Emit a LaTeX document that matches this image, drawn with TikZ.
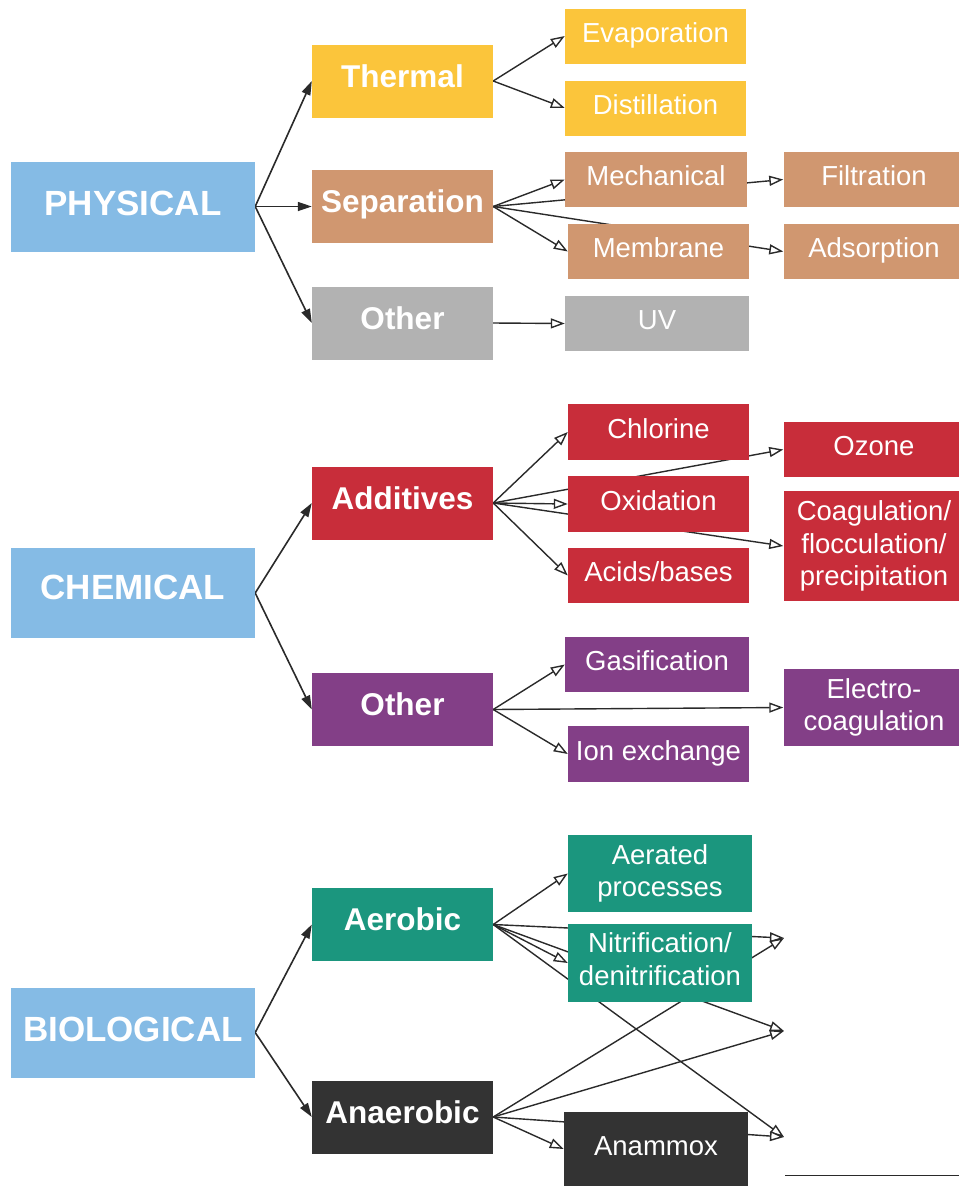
\documentclass[tikz,border=0pt]{standalone}
\usepackage{fontspec}
\setmainfont{Liberation Sans}
\usetikzlibrary{arrows.meta}
\pgfdeclarelayer{bg}
\pgfsetlayers{bg,main}
\definecolor{cblue}{HTML}{85BBE5}
\definecolor{cyellow}{HTML}{FBC53B}
\definecolor{ctan}{HTML}{D09770}
\definecolor{cgray}{HTML}{B2B2B2}
\definecolor{cred}{HTML}{C82D3A}
\definecolor{cpurple}{HTML}{833F87}
\definecolor{cteal}{HTML}{1B967E}
\definecolor{cdark}{HTML}{333333}
\definecolor{cline}{HTML}{2A2A2A}
\newcommand{\lowstrut}[1]{\rule[-#1]{0pt}{#1}}
\tikzset{
  box/.style={rectangle, inner sep=0pt, text=white, align=center},
  lvlzero/.style={box, font=\bfseries\fontsize{35}{40}\selectfont, minimum width=244pt, minimum height=90pt, text height=25pt, text depth=7pt},
  lvlone/.style={box, font=\bfseries\fontsize{31.5}{36}\selectfont, minimum width=181pt, minimum height=73pt, text height=22.5pt, text depth=10pt},
  lvltwo/.style={box, font=\fontsize{27.5}{32.5}\selectfont, text height=19.7pt, text depth=7pt},
  lvlthree/.style={box, font=\fontsize{27.5}{32.5}\selectfont, minimum width=181pt, text height=19.7pt, text depth=8pt},
  multiline/.style={text height=, text depth=},
  filledarrow/.style={draw=cline, line width=1.6pt, -{Triangle[length=14pt,width=9pt]}},
  openarrow/.style={draw=cline, line width=1.4pt, -{Triangle[open,length=14pt,width=10pt,fill=white]}},
  plainline/.style={draw=cline, line width=1pt},
}
\begin{document}
\begin{tikzpicture}[x=1pt,y=-1pt]
\useasboundingbox (0,0) rectangle (959,1187);
% level 0
\node[lvlzero, fill=cblue] (phys) at (133,206.5) {PHYSICAL};
\node[lvlzero, fill=cblue, text depth=13pt] (chem) at (133,593) {CHEMICAL};
\node[lvlzero, fill=cblue] (bio) at (133,1032.5) {BIOLOGICAL};
% level 1
\node[lvlone, fill=cyellow] (thermal) at (402.5,81) {Thermal};
\node[lvlone, fill=ctan] (sep) at (402.5,206.5) {Separation};
\node[lvlone, fill=cgray] (otherp) at (402.5,323) {Other};
\node[lvlone, fill=cred] (addit) at (402.5,503) {Additives};
\node[lvlone, fill=cpurple] (otherc) at (402.5,709.5) {Other};
\node[lvlone, fill=cteal] (aerob) at (402.5,924.5) {Aerobic};
\node[lvlone, fill=cdark] (anaer) at (402.5,1117) {Anaerobic};
% level 2
\node[lvltwo, fill=cyellow, minimum width=181pt, minimum height=55pt] (evap) at (655.5,36) {Evaporation};
\node[lvltwo, fill=cyellow, minimum width=181pt, minimum height=55pt] (dist) at (655.5,108) {Distillation};
\node[lvltwo, fill=ctan, minimum width=182pt, minimum height=55pt] (mech) at (656,179.5) {Mechanical};
\node[lvltwo, fill=ctan, minimum width=181pt, minimum height=55pt] (memb) at (658.5,251.5) {Membrane};
\node[lvltwo, fill=cgray, minimum width=184pt, minimum height=55pt] (uv) at (657,323.5) {UV};
\node[lvltwo, fill=cred, minimum width=181pt, minimum height=56pt] (chlor) at (658.5,432) {Chlorine};
\node[lvltwo, fill=cred, minimum width=181pt, minimum height=56pt] (oxid) at (658.5,504) {Oxidation};
\node[lvltwo, fill=cred, minimum width=181pt, minimum height=55pt] (acids) at (658.5,575.5) {Acids/bases};
\node[lvltwo, fill=cpurple, minimum width=184pt, minimum height=55pt] (gasif) at (657,664.5) {Gasification};
\node[lvltwo, fill=cpurple, minimum width=181pt, minimum height=56pt] (ionex) at (658.5,754) {Ion exchange};
\node[lvltwo, multiline, fill=cteal, minimum width=184pt, minimum height=77pt] (aerat) at (660,873.5) {Aerated\\processes\lowstrut{3pt}};
\node[lvltwo, multiline, fill=cteal, minimum width=184pt, minimum height=78pt] (nitri) at (660,963) {Nitrification/\\denitrification\lowstrut{8pt}};
\node[lvltwo, fill=cdark, minimum width=184pt, minimum height=74pt] (anamm) at (656,1149) {Anammox};
% level 3 (boxes run past the right edge of the picture)
\node[lvlthree, fill=ctan, minimum height=55pt] (filt) at (874,179.5) {Filtration};
\node[lvlthree, fill=ctan, minimum height=55pt] (adsor) at (874,251.5) {Adsorption};
\node[lvlthree, fill=cred, minimum height=55pt] (ozone) at (874,449.5) {Ozone};
\node[lvlthree, multiline, fill=cred, minimum height=110pt] (coag) at (874,546) {Coagulation/\\flocculation/\\precipitation};
\node[lvlthree, multiline, fill=cpurple, minimum height=77pt] (electro) at (874,707.5) {Electro-\\coagulation};
% targets without boxes
\coordinate (tgtA) at (784,938);
\coordinate (tgtB) at (784,1031);
\coordinate (tgtC) at (784,1137);
\coordinate (lineL) at (785,1175);
\coordinate (lineR) at (959,1175);
\begin{pgfonlayer}{bg}
% level 0 -> 1
\draw[filledarrow] (phys.east) -- (thermal.west);
\draw[filledarrow] (phys.east) -- (sep.west);
\draw[filledarrow] (phys.east) -- (otherp.west);
\draw[filledarrow] (chem.east) -- (addit.west);
\draw[filledarrow] (chem.east) -- (otherc.west);
\draw[filledarrow] (bio.east) -- (aerob.west);
\draw[filledarrow] (bio.east) -- (anaer.west);
% physical
\draw[openarrow] (thermal.east) -- (evap.west);
\draw[openarrow] (thermal.east) -- (dist.west);
\draw[openarrow] (sep.east) -- (mech.west);
\draw[openarrow] (sep.east) -- (memb.west);
\draw[openarrow] (sep.east) -- (filt.west);
\draw[openarrow] (sep.east) -- (adsor.west);
\draw[openarrow] (otherp.east) -- (uv.west);
% chemical
\draw[openarrow] (addit.east) -- (chlor.west);
\draw[openarrow] (addit.east) -- (oxid.west);
\draw[openarrow] (addit.east) -- (acids.west);
\draw[openarrow] (addit.east) -- (ozone.west);
\draw[openarrow] (addit.east) -- (coag.west);
\draw[openarrow] (otherc.east) -- (gasif.west);
\draw[openarrow] (otherc.east) -- (ionex.west);
\draw[openarrow] (otherc.east) -- (electro.west);
% biological
\draw[openarrow] (aerob.east) -- (aerat.west);
\draw[openarrow] (aerob.east) -- (nitri.west);
\draw[openarrow] (aerob.east) -- (tgtA);
\draw[openarrow] (aerob.east) -- (tgtB);
\draw[openarrow] (aerob.east) -- (tgtC);
\draw[openarrow] (anaer.east) -- (anamm.west);
\draw[openarrow] (anaer.east) -- (tgtA);
\draw[openarrow] (anaer.east) -- (tgtB);
\draw[openarrow] (anaer.east) -- (tgtC);
\draw[plainline] (lineL) -- (lineR);
\end{pgfonlayer}
\end{tikzpicture}
\end{document}
